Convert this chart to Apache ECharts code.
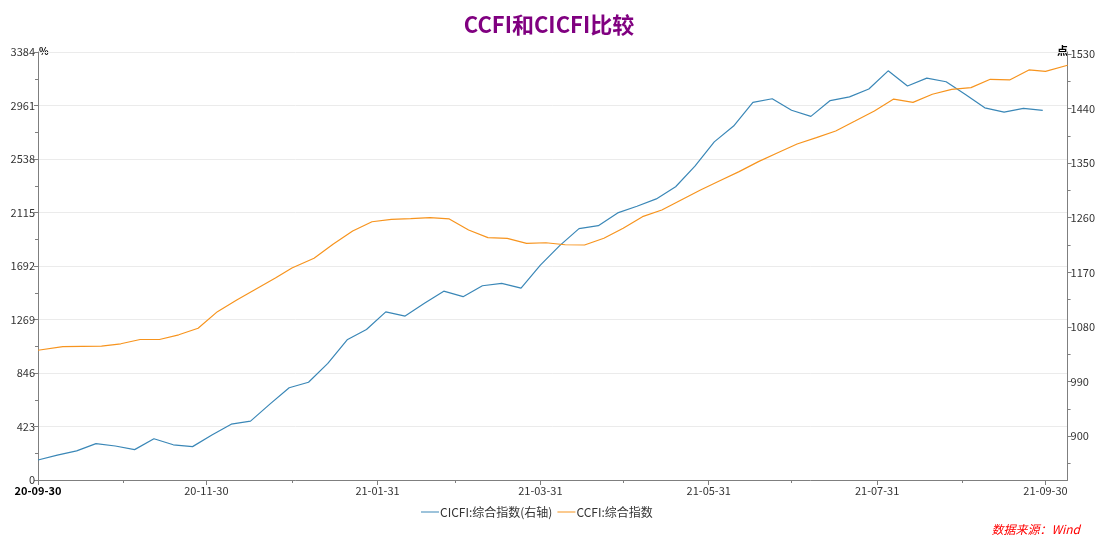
<!DOCTYPE html>
<html>
<head>
<meta charset="utf-8">
<script src="https://cdn.jsdelivr.net/npm/echarts@6/dist/echarts.min.js"></script>
<style>
html,body{margin:0;padding:0;background:#fff;}
#chart{width:1098px;height:537px;}
</style>
</head>
<body>
<div id="chart"></div>
<script>
// ---------- data ----------
const titleText = 'CCFI和CICFI比较';
const sourceText = '数据来源：Wind';
const cicfiName = 'CICFI:综合指数(右轴)';
const ccfiName = 'CCFI:综合指数';
const leftUnit = '%';
const rightUnit = '点';

const cicfiDates = [
  '2020-09-30','2020-10-07','2020-10-14','2020-10-21','2020-10-28',
  '2020-11-04','2020-11-11','2020-11-18','2020-11-25',
  '2020-12-02','2020-12-09','2020-12-16','2020-12-23','2020-12-30',
  '2021-01-06','2021-01-13','2021-01-20','2021-01-27',
  '2021-02-03','2021-02-10','2021-02-17','2021-02-24',
  '2021-03-03','2021-03-10','2021-03-17','2021-03-24','2021-03-31',
  '2021-04-07','2021-04-14','2021-04-21','2021-04-28',
  '2021-05-05','2021-05-12','2021-05-19','2021-05-26',
  '2021-06-02','2021-06-09','2021-06-16','2021-06-23','2021-06-30',
  '2021-07-07','2021-07-14','2021-07-21','2021-07-28',
  '2021-08-04','2021-08-11','2021-08-18','2021-08-25',
  '2021-09-01','2021-09-08','2021-09-15','2021-09-22','2021-09-29'
];
const cicfiValues = [
  861, 869, 876, 888, 884,
  878, 896, 886, 883,
  902, 920, 925, 953, 980,
  989, 1020, 1059, 1076,
  1105, 1098, 1119, 1139,
  1130, 1148, 1152, 1144, 1182,
  1214, 1242, 1247, 1268,
  1279, 1291, 1311, 1345,
  1385, 1411, 1450, 1456, 1437,
  1427, 1453, 1459, 1472,
  1502, 1477, 1490, 1484,
  1463, 1441, 1434, 1440, 1437
];

const ccfiDates = [
  '2020-09-30','2020-10-09','2020-10-16','2020-10-23','2020-10-30',
  '2020-11-06','2020-11-13','2020-11-20','2020-11-27',
  '2020-12-04','2020-12-11','2020-12-18','2020-12-25','2020-12-31',
  '2021-01-08','2021-01-15','2021-01-22','2021-01-29',
  '2021-02-05','2021-02-12','2021-02-19','2021-02-26',
  '2021-03-05','2021-03-12','2021-03-19','2021-03-26',
  '2021-04-02','2021-04-09','2021-04-16','2021-04-23','2021-04-30',
  '2021-05-07','2021-05-14','2021-05-21','2021-05-28',
  '2021-06-04','2021-06-11','2021-06-18','2021-06-25',
  '2021-07-02','2021-07-09','2021-07-16','2021-07-23','2021-07-30',
  '2021-08-06','2021-08-13','2021-08-20','2021-08-27',
  '2021-09-03','2021-09-10','2021-09-17','2021-09-24','2021-09-30','2021-10-08'
];
const ccfiValues = [
  1026, 1054, 1057, 1059, 1077,
  1111, 1111, 1148, 1200,
  1331, 1423, 1510, 1597, 1676,
  1753, 1866, 1969, 2042,
  2061, 2066, 2074, 2064,
  1977, 1916, 1911, 1871,
  1876, 1860, 1858, 1911, 1990,
  2082, 2135, 2214, 2293,
  2366, 2438, 2517, 2588,
  2657, 2707, 2759, 2838, 2918,
  3012, 2986, 3050, 3089,
  3102, 3168, 3163, 3242, 3231, 3279
];

const xStart = '2020-09-30';
const xEnd = '2021-10-08';
const xLabelDates = ['2020-09-30','2020-11-30','2021-01-31','2021-03-31','2021-05-31','2021-07-31','2021-09-30'];
const xMinorDates = ['2020-10-31','2020-12-31','2021-02-28','2021-04-30','2021-06-30','2021-08-31'];

const leftMin = 0, leftMax = 3384, leftInterval = 423;
const rightMin = 828, rightMax = 1533;
const rightLabelValues = [900, 990, 1080, 1170, 1260, 1350, 1440, 1530];
const rightMinorValues = [855, 945, 1035, 1125, 1215, 1305, 1395, 1485];

// ---------- helpers ----------
function ts(s) { const p = s.split('-').map(Number); return Date.UTC(p[0], p[1] - 1, p[2]); }
function pad(n) { return (n < 10 ? '0' : '') + n; }
function fmt(t) {
  const d = new Date(t);
  return String(d.getUTCFullYear()).slice(2) + '-' + pad(d.getUTCMonth() + 1) + '-' + pad(d.getUTCDate());
}

const FONT = '"Noto Sans CJK SC", "Noto Sans", sans-serif';
const AXIS_COLOR = '#7f7f7f';
const LABEL_COLOR = '#333333';
const BLUE = '#3A87B7';
const ORANGE = '#F7941E';

const GRID = { left: 38, right: 29, top: 52, bottom: 57 };

const chart = echarts.init(document.getElementById('chart'), null, { renderer: 'canvas' });

const option = {
  backgroundColor: '#ffffff',
  animation: false,
  textStyle: { fontFamily: FONT },
  title: {
    text: titleText,
    left: 'center',
    top: 9,
    textStyle: { color: '#800080', fontSize: 22, fontWeight: 'bold', fontFamily: FONT }
  },
  legend: {
    bottom: 14,
    left: 416,
    icon: 'rect',
    itemWidth: 18,
    itemHeight: 1,
    itemGap: 5,
    textStyle: { fontSize: 12, color: '#333', fontFamily: FONT, padding: [0, 0, 0, -4] },
    data: [cicfiName, ccfiName]
  },
  graphic: [{
    type: 'text',
    right: 18,
    bottom: 2,
    style: { text: sourceText, fill: '#FF0000', font: 'italic 12px ' + FONT }
  }, {
    type: 'text',
    left: GRID.left + 1,
    top: GRID.top - 6,
    style: { text: leftUnit, fill: '#000', font: 'bold 10px ' + FONT }
  }, {
    type: 'text',
    right: GRID.right + 1,
    top: GRID.top - 7,
    style: { text: rightUnit, fill: '#000', font: 'bold 11px ' + FONT }
  }],
  grid: { left: GRID.left, right: GRID.right, top: GRID.top, bottom: GRID.bottom, containLabel: false },
  xAxis: [{
    type: 'value',
    min: ts(xStart),
    max: ts(xEnd),
    axisLine: { show: true, onZero: false, lineStyle: { color: AXIS_COLOR, width: 1 } },
    axisTick: { show: true, length: 5, customValues: xLabelDates.map(ts), lineStyle: { color: AXIS_COLOR } },
    axisLabel: {
      show: true,
      customValues: xLabelDates.map(ts),
      margin: 5,
      fontSize: 11,
      color: LABEL_COLOR,
      formatter: function (v) {
        return v === ts(xStart) ? '{b|' + fmt(v) + '}' : fmt(v);
      },
      rich: { b: { fontWeight: 'bold', fontSize: 11, color: '#000', fontFamily: FONT } }
    },
    splitLine: { show: false }
  }, {
    type: 'value',
    position: 'bottom',
    min: ts(xStart),
    max: ts(xEnd),
    axisLine: { show: false },
    axisTick: { show: true, length: 3, customValues: xMinorDates.map(ts), lineStyle: { color: AXIS_COLOR } },
    axisLabel: { show: false },
    splitLine: { show: false }
  }],
  yAxis: [{
    type: 'value',
    position: 'left',
    min: leftMin,
    max: leftMax,
    interval: leftInterval,
    axisLine: { show: true, lineStyle: { color: AXIS_COLOR } },
    axisTick: { show: true, length: 4, lineStyle: { color: AXIS_COLOR } },
    minorTick: { show: true, splitNumber: 2, length: 3, lineStyle: { color: AXIS_COLOR } },
    axisLabel: { fontSize: 11, color: LABEL_COLOR, margin: 3, formatter: v => String(v) },
    splitLine: { show: true, lineStyle: { color: '#ebebeb', width: 1 } }
  }, {
    type: 'value',
    position: 'right',
    min: rightMin,
    max: rightMax,
    axisLine: { show: true, lineStyle: { color: AXIS_COLOR } },
    axisTick: { show: true, length: 4, customValues: rightLabelValues, lineStyle: { color: AXIS_COLOR } },
    axisLabel: { customValues: rightLabelValues, fontSize: 11, color: LABEL_COLOR, margin: 3, formatter: v => String(v) },
    splitLine: { show: false }
  }, {
    type: 'value',
    position: 'right',
    min: rightMin,
    max: rightMax,
    axisLine: { show: false },
    axisTick: { show: true, length: 3, customValues: rightMinorValues, lineStyle: { color: AXIS_COLOR } },
    axisLabel: { show: false },
    splitLine: { show: false }
  }],
  series: [{
    name: cicfiName,
    type: 'line',
    xAxisIndex: 0,
    yAxisIndex: 1,
    symbol: 'none',
    lineStyle: { color: BLUE, width: 1.2 },
    itemStyle: { color: BLUE },
    data: cicfiDates.map((d, i) => [ts(d), cicfiValues[i]])
  }, {
    name: ccfiName,
    type: 'line',
    xAxisIndex: 0,
    yAxisIndex: 0,
    symbol: 'none',
    lineStyle: { color: ORANGE, width: 1.2 },
    itemStyle: { color: ORANGE },
    data: ccfiDates.map((d, i) => [ts(d), ccfiValues[i]])
  }]
};

chart.setOption(option);
</script>
</body>
</html>
